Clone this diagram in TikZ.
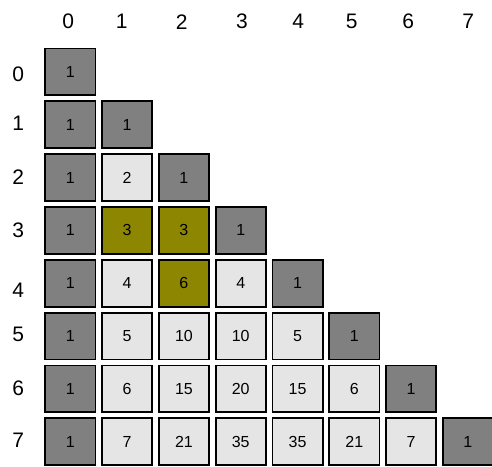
\documentclass[tikz,border=0pt]{standalone}
\usepackage{fontspec}
\setmainfont{Liberation Sans}
\begin{document}
\begin{tikzpicture}[
    x=1pt, y=1pt,
    cell/.style={draw, line width=1.8pt, minimum width=50.2pt,
                 minimum height=46.8pt, inner sep=0pt,
                 font=\fontsize{16}{16}\selectfont},
    edge/.style={cell, fill=gray},
    inner/.style={cell, fill=black!10},
    hilite/.style={cell, fill=olive},
    lbl/.style={font=\fontsize{21}{21}\selectfont}
  ]
    \useasboundingbox (0,0) rectangle (492,466);

    % index labels
    \foreach \i/\px in {0/68.3,1/121.7,2/181.7,3/242,4/298.3,5/351.7,6/408.3,7/468.3}
      \node[lbl] (col\i) at (\px,444.3) {\i};
    \foreach \i/\py in {0/74,1/123.3,2/177.3,3/230,4/290,5/334.3,6/388.3,7/440}
      \node[lbl] (row\i) at (18.3,466-\py) {\i};

    % triangle
    \foreach \vals [count=\row from 0] in
      {{1},{1,1},{1,2,1},{1,3,3,1},{1,4,6,4,1},{1,5,10,10,5,1},
       {1,6,15,20,15,6,1},{1,7,21,35,35,21,7,1}} {
      \foreach \v [count=\col from 0] in \vals {
        \def\sty{inner}
        \ifnum\col=0 \def\sty{edge}\fi
        \ifnum\col=\row \def\sty{edge}\fi
        \ifnum\row=3 \ifnum\col>0 \ifnum\col<3 \def\sty{hilite}\fi\fi\fi
        \ifnum\row=4 \ifnum\col=2 \def\sty{hilite}\fi\fi
        \node[\sty] (c\row\col) at (70.3+56.8*\col, 394-52.8*\row) {\v};
      }
    }
  \end{tikzpicture}
\end{document}
